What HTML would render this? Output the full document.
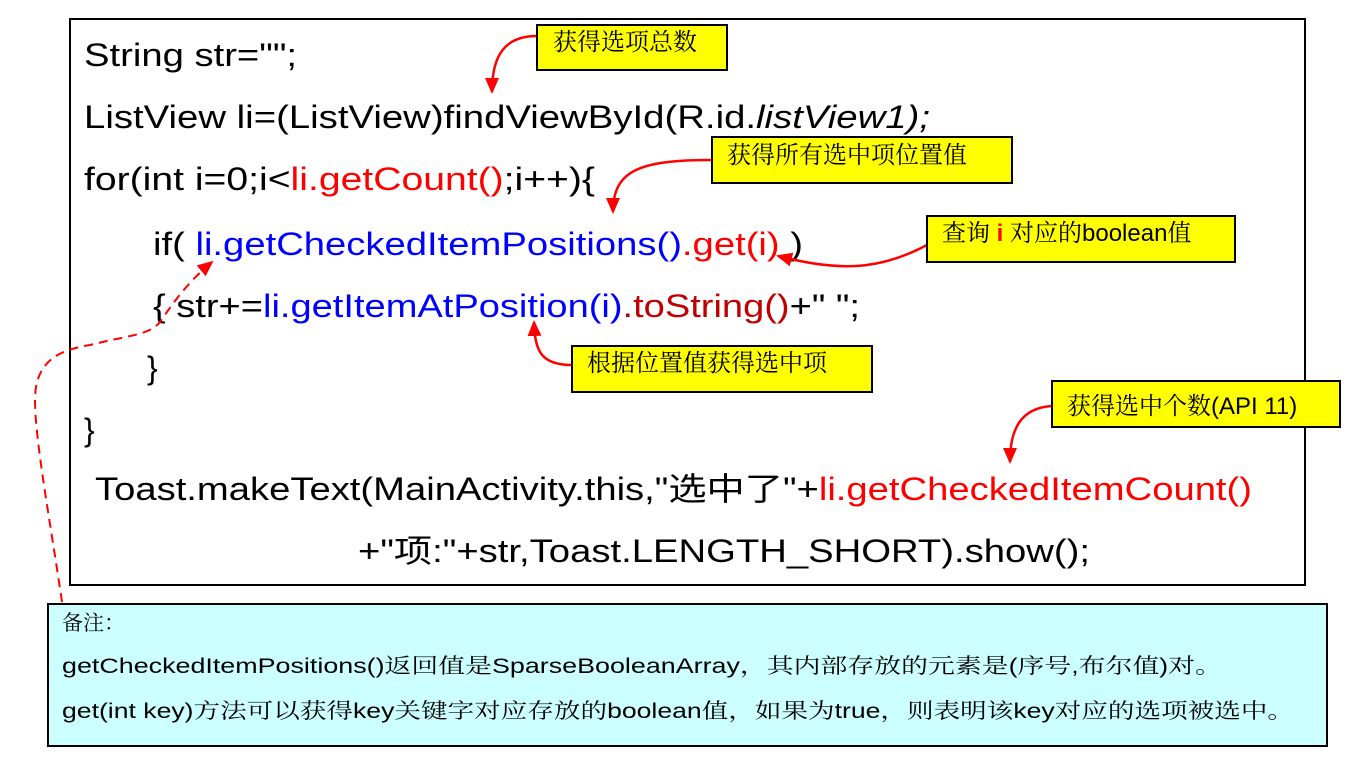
<!DOCTYPE html>
<html><head><meta charset="utf-8"><style>
html,body{margin:0;padding:0;background:#fff;width:1361px;height:765px;overflow:hidden}
svg{display:block}
.c{font-family:"Liberation Sans","Noto Sans CJK SC",sans-serif;font-size:32px;fill:#000}
.y{font-family:"Liberation Sans","Noto Serif CJK SC",serif;font-size:24px;fill:#000}
.n{font-family:"Liberation Sans","Noto Serif CJK SC",serif;font-size:21px;fill:#000}
.r{fill:#ff0000}.b{fill:#0000ff}.d{fill:#c00000}
</style></head><body>
<svg width="1361" height="765" viewBox="0 0 1361 765">
<defs>
<marker id="ah" markerWidth="10" markerHeight="10" refX="8" refY="5" orient="auto" markerUnits="userSpaceOnUse" viewBox="0 0 10 10"><path d="M0,0 L10,5 L0,10 z" fill="#ff0000"/></marker>
<marker id="ah2" markerWidth="16" markerHeight="14" refX="14" refY="7" orient="auto" markerUnits="userSpaceOnUse" viewBox="0 0 16 14"><path d="M0,0 L16,7 L0,14 z" fill="#ff0000"/></marker>
</defs>
<rect x="70" y="19" width="1235" height="566" fill="#fff" stroke="#000" stroke-width="2"/>
<text class="c" x="84" y="66" textLength="213" lengthAdjust="spacingAndGlyphs">String str="";</text>
<text class="c" x="84" y="128" textLength="846" lengthAdjust="spacingAndGlyphs">ListView li=(ListView)findViewById(R.id.<tspan font-style="italic">listView1);</tspan></text>
<text class="c" x="84" y="190" textLength="511" lengthAdjust="spacingAndGlyphs">for(int i=0;i&lt;<tspan class="r">li.getCount()</tspan>;i++){</text>
<text class="c" x="153" y="255" textLength="650" lengthAdjust="spacingAndGlyphs">if( <tspan class="b">li.getCheckedItemPositions()</tspan><tspan class="r">.get(i)</tspan> )</text>
<text class="c" x="153" y="317" textLength="707" lengthAdjust="spacingAndGlyphs">{ str+=<tspan class="b">li.getItemAtPosition(i)</tspan><tspan class="d">.toString()</tspan>+" ";</text>
<text class="c" x="147" y="379">}</text>
<text class="c" x="84" y="441">}</text>
<text class="c" x="95" y="500" textLength="1157" lengthAdjust="spacingAndGlyphs">Toast.makeText(MainActivity.this,"选中了"+<tspan class="r">li.getCheckedItemCount()</tspan></text>
<text class="c" x="358" y="562" textLength="732" lengthAdjust="spacingAndGlyphs">+"项:"+str,Toast.LENGTH_SHORT).show();</text>

<!-- note box -->
<rect x="48" y="604" width="1279" height="142" fill="#ccffff" stroke="#000" stroke-width="2"/>
<text class="n" x="62" y="630">备注：</text>
<text class="n" x="62" y="673" textLength="1160" lengthAdjust="spacingAndGlyphs">getCheckedItemPositions()返回值是SparseBooleanArray，其内部存放的元素是(序号,布尔值)对。</text>
<text class="n" x="62" y="718" textLength="1232" lengthAdjust="spacingAndGlyphs">get(int key)方法可以获得key关键字对应存放的boolean值，如果为true，则表明该key对应的选项被选中。</text>

<!-- dashed connector -->
<path d="M62,602 C50,520 35,440 35,400 C35,360 60,350 90,345 C130,335 150,335 160,322 C175,300 190,280 212,262" fill="none" stroke="#ff0000" stroke-width="2" stroke-dasharray="9,6" marker-end="url(#ah2)"/>

<!-- callout arrows -->
<g fill="none" stroke="#ff0000" stroke-width="2.5">
<path d="M537,36 C505,36 492,55 492,92" marker-end="url(#ah2)"/>
<path d="M712,160 C640,160 613,170 613,212" marker-end="url(#ah2)"/>
<path d="M927,245 C880,270 840,272 778,256" marker-end="url(#ah2)"/>
<path d="M572,365 C540,365 535,350 534,322" marker-end="url(#ah2)"/>
<path d="M1052,406 C1020,408 1010,430 1010,462" marker-end="url(#ah2)"/>
</g>

<!-- callouts -->
<rect x="537" y="25" width="190" height="45" fill="#ffff00" stroke="#000" stroke-width="2"/>
<text class="y" x="553" y="50">获得选项总数</text>
<rect x="712" y="137" width="300" height="46" fill="#ffff00" stroke="#000" stroke-width="2"/>
<text class="y" x="727" y="163">获得所有选中项位置值</text>
<rect x="927" y="216" width="308" height="46" fill="#ffff00" stroke="#000" stroke-width="2"/>
<text class="y" x="942" y="241">查询 <tspan fill="#ff0000" font-weight="bold">i</tspan> 对应的boolean值</text>
<rect x="572" y="346" width="300" height="46" fill="#ffff00" stroke="#000" stroke-width="2"/>
<text class="y" x="587" y="371">根据位置值获得选中项</text>
<rect x="1052" y="381" width="288" height="46" fill="#ffff00" stroke="#000" stroke-width="2"/>
<text class="y" x="1067" y="414">获得选中个数(API 11)</text>
</svg>
</body></html>
